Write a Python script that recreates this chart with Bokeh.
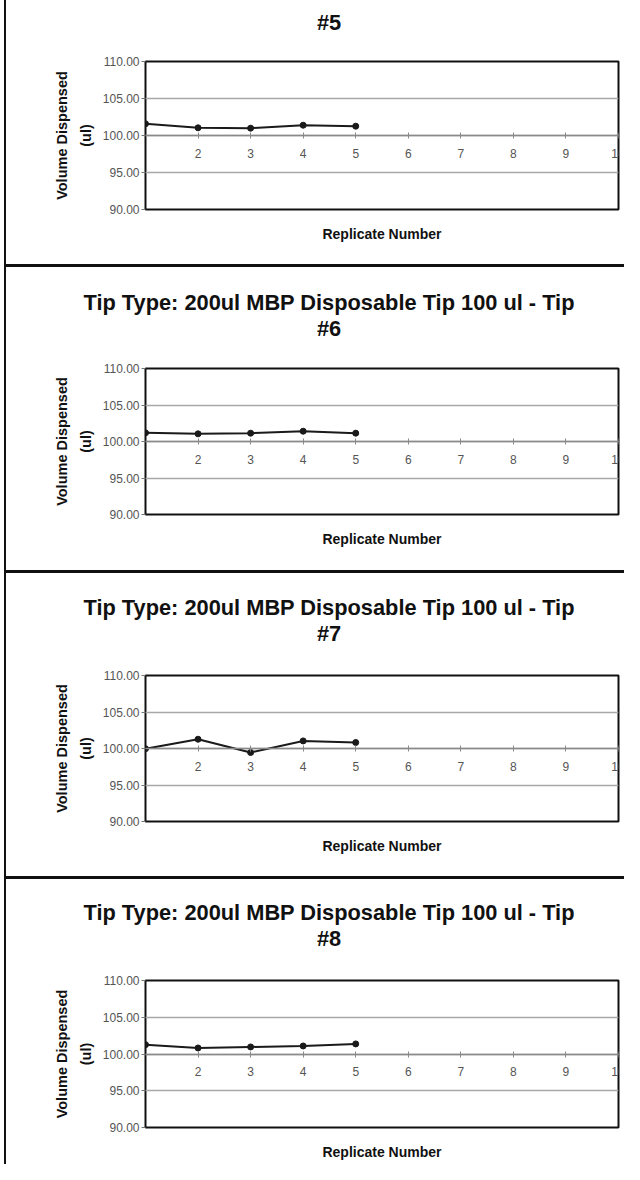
from bokeh.plotting import figure
from bokeh.models import LinearAxis, FixedTicker, Range1d, PrintfTickFormatter, Spacer, Div
from bokeh.layouts import column, row
from bokeh.embed import file_html
from bokeh.resources import INLINE

# ---- data ----
replicates = [1, 2, 3, 4, 5]
tip5 = [101.58, 101.04, 100.99, 101.39, 101.26]
tip6 = [101.19, 101.05, 101.14, 101.41, 101.14]
tip7 = [99.97, 101.27, 99.45, 101.04, 100.82]
tip8 = [101.27, 100.82, 100.96, 101.09, 101.37]
series = [tip5, tip6, tip7, tip8]

tip_names = ["#5", "#6", "#7", "#8"]
title_prefix = "Tip Type: 200ul MBP Disposable Tip 100 ul - Tip"
x_tick_values = [2, 3, 4, 5, 6, 7, 8, 9, 10]
y_tick_values = [90, 95, 100, 105, 110]
x_start, x_end = 1, 10
y_start, y_end = 90, 110
x_axis_cross = 100
y_title = "Volume Dispensed\n(ul)"
x_title = "Replicate Number"

# ---- layout (pixels) ----
panel_heights = [264, 303, 303, 285]
title_heights = [40, 80, 80, 80]
title_pad_top = [10, 23, 22, 21]
panel_tops = [61, 101, 102, 101]
frame_heights = [148, 146, 146, 147]
fig_width = 618
FONT = "Liberation Sans"


def make_title(i):
    if i == 0:
        html_text = tip_names[i]
    else:
        html_text = title_prefix + "<br>" + tip_names[i]
    style = ("width:%dpx;box-sizing:border-box;padding-left:28px;padding-top:%dpx;"
             "text-align:center;font-family:'%s';font-weight:bold;font-size:21.8px;"
             "line-height:26px;color:#111111;white-space:nowrap;") % (fig_width, title_pad_top[i], FONT)
    return Div(text="<div style=\"%s\">%s</div>" % (style, html_text),
               width=fig_width, height=title_heights[i], margin=0,
               styles={"background-color": "white", "overflow": "hidden"})


def make_panel(i):
    th = title_heights[i]
    h = panel_heights[i] - th
    top = panel_tops[i] - th
    fh = frame_heights[i]
    bottom = h - top - fh
    p = figure(width=fig_width, height=h,
               x_range=Range1d(x_start, x_end), y_range=Range1d(y_start, y_end),
               output_backend="svg", toolbar_location=None,
               min_border_left=139, min_border_right=6,
               min_border_top=top, min_border_bottom=bottom)
    p.background_fill_color = "white"
    p.border_fill_color = "white"
    p.outline_line_color = "#111111"
    p.outline_line_width = 2

    # y axis
    ya = p.yaxis[0]
    ya.ticker = FixedTicker(ticks=y_tick_values)
    ya.formatter = PrintfTickFormatter(format="%.2f")
    ya.axis_line_color = None
    ya.major_tick_in = 0
    ya.major_tick_out = 4
    ya.major_tick_line_color = "#777777"
    ya.minor_tick_line_color = None
    ya.major_label_standoff = 2
    ya.major_label_text_font = FONT
    ya.major_label_text_font_size = "12px"
    ya.major_label_text_color = "#555555"
    ya.axis_label = y_title
    ya.axis_label_text_font = FONT
    ya.axis_label_text_font_size = "14.5px"
    ya.axis_label_text_font_style = "bold"
    ya.axis_label_text_color = "#111111"
    ya.axis_label_text_line_height = 1.5
    ya.axis_label_standoff = 6

    # bottom axis: only the title
    xb = p.xaxis[0]
    xb.ticker = FixedTicker(ticks=[])
    xb.axis_line_color = None
    xb.major_tick_out = 0
    xb.major_tick_in = 0
    xb.minor_tick_line_color = None
    xb.major_label_standoff = 0
    xb.axis_label = x_title
    xb.axis_label_text_font = FONT
    xb.axis_label_text_font_size = "14px"
    xb.axis_label_text_font_style = "bold"
    xb.axis_label_text_color = "#111111"
    xb.axis_label_standoff = 16

    # category axis crossing at 100
    xa = LinearAxis(fixed_location=x_axis_cross, ticker=FixedTicker(ticks=x_tick_values))
    xa.axis_line_color = "#8a8a8a"
    xa.axis_line_width = 1.5
    xa.major_tick_in = 3
    xa.major_tick_out = 3
    xa.major_tick_line_color = "#8a8a8a"
    xa.minor_tick_line_color = None
    xa.major_label_standoff = 10
    xa.major_label_text_font = FONT
    xa.major_label_text_font_size = "12px"
    xa.major_label_text_color = "#555555"
    p.add_layout(xa, "below")

    # grid
    p.xgrid.visible = False
    p.ygrid.ticker = FixedTicker(ticks=y_tick_values)
    p.ygrid.grid_line_color = "#a8a8a8"
    p.ygrid.grid_line_width = 1.5

    # data
    vals = series[i]
    p.line(replicates, vals, line_color="#1a1a1a", line_width=2)
    p.scatter(replicates, vals, size=6, fill_color="#1a1a1a", line_color="#1a1a1a")
    return p


def separator():
    return Spacer(width=fig_width, height=3, styles={"background-color": "#111111"})


items = []
for i in range(4):
    if i > 0:
        items.append(separator())
    items.append(make_title(i))
    items.append(make_panel(i))
col = column(*items, spacing=0)
total_h = sum(panel_heights) + 9
left_gap = Spacer(width=4, height=total_h, styles={"background-color": "white"})
left_line = Spacer(width=2, height=total_h, styles={"background-color": "#111111"})
root = row(left_gap, left_line, col, spacing=0)

open("out.html", "w").write(file_html(root, INLINE))
